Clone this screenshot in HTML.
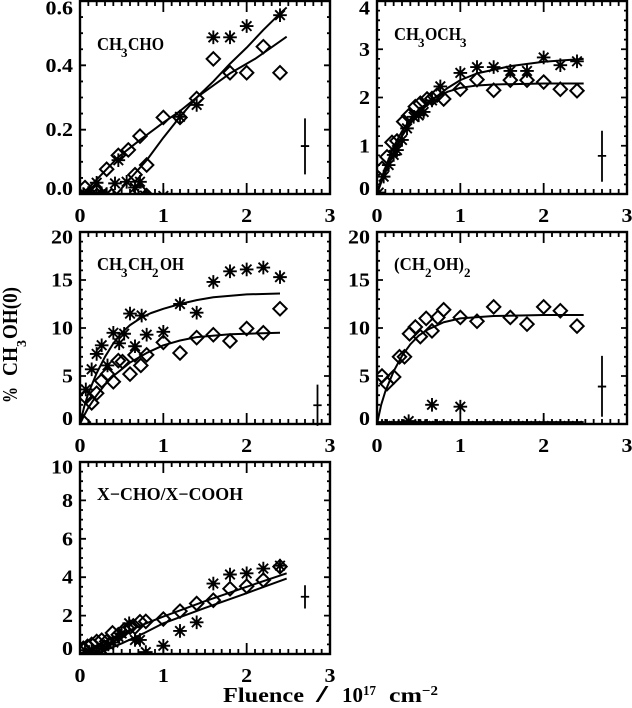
<!DOCTYPE html>
<html lang="en">
<head>
<meta charset="utf-8">
<title>Product yields vs fluence</title>
<style>
html,body{margin:0;padding:0;background:#fff;}
svg{display:block;}
text{font-family:"Liberation Serif",serif;font-weight:bold;fill:#000;}
</style>
</head>
<body>
<svg id="chart" width="632" height="708" viewBox="0 0 632 708" xmlns="http://www.w3.org/2000/svg">
  <rect width="632" height="708" fill="#fff"/>

  <g>
    <text x="97" y="50" font-size="18" textLength="25" lengthAdjust="spacingAndGlyphs">CH</text>
    <text x="121" y="57" font-size="13">3</text>
    <text x="128" y="50" font-size="18" textLength="36" lengthAdjust="spacingAndGlyphs">CHO</text>
  </g>
  <g>
    <text x="394" y="40" font-size="18" textLength="25" lengthAdjust="spacingAndGlyphs">CH</text>
    <text x="418" y="47" font-size="13">3</text>
    <text x="425" y="40" font-size="18" textLength="36" lengthAdjust="spacingAndGlyphs">OCH</text>
    <text x="460" y="47" font-size="13">3</text>
  </g>
  <g>
    <text x="97" y="270" font-size="18" textLength="25" lengthAdjust="spacingAndGlyphs">CH</text>
    <text x="121" y="277" font-size="13">3</text>
    <text x="128" y="270" font-size="18" textLength="25" lengthAdjust="spacingAndGlyphs">CH</text>
    <text x="152" y="277" font-size="13">2</text>
    <text x="160" y="270" font-size="18" textLength="24" lengthAdjust="spacingAndGlyphs">OH</text>
  </g>
  <g>
    <text x="394" y="270" font-size="18" textLength="31" lengthAdjust="spacingAndGlyphs">(CH</text>
    <text x="425" y="277" font-size="13">2</text>
    <text x="433" y="270" font-size="18" textLength="31" lengthAdjust="spacingAndGlyphs">OH)</text>
    <text x="464" y="277" font-size="13">2</text>
  </g>
  <text x="97" y="500" font-size="18" textLength="146" lengthAdjust="spacingAndGlyphs">X−CHO/X−COOH</text>

  <g transform="translate(17,403) rotate(-90)">
    <text x="0" y="0" font-size="21" textLength="16" lengthAdjust="spacingAndGlyphs">%</text>
    <text x="27" y="0" font-size="21" textLength="29" lengthAdjust="spacingAndGlyphs">CH</text>
    <text x="56" y="9" font-size="14">3</text>
    <text x="64" y="0" font-size="21" textLength="52" lengthAdjust="spacingAndGlyphs">OH(0)</text>
  </g>
  <g>
    <text x="223" y="702" font-size="21" textLength="81" lengthAdjust="spacingAndGlyphs">Fluence</text>
    <text x="316" y="702" font-size="24" textLength="12" lengthAdjust="spacingAndGlyphs">/</text>
    <text x="342" y="702" font-size="21" textLength="21" lengthAdjust="spacingAndGlyphs">10</text>
    <text x="363" y="695" font-size="14" textLength="13" lengthAdjust="spacingAndGlyphs">17</text>
    <text x="389" y="702" font-size="21" textLength="33" lengthAdjust="spacingAndGlyphs">cm</text>
    <text x="422" y="695" font-size="14" textLength="16" lengthAdjust="spacingAndGlyphs">−2</text>
  </g>
</svg>

<script>
// ---- x tick labels (shared) ----
const xTickValues = [0, 1, 2, 3];
const xTickLabels = ['0', '1', '2', '3'];

// ---- Panel 1: CH3CHO ----
const p1YTicks = [0, 0.2, 0.4, 0.6];
const p1YLabels = ['0.0', '0.2', '0.4', '0.6'];
const p1DiamondX = [0.06, 0.12, 0.2, 0.26, 0.32, 0.38, 0.46, 0.58, 0.66, 0.72, 0.72, 0.8, 0.8, 1, 1.2, 1.4, 1.6, 1.8, 2, 2.2, 2.4];
const p1DiamondY = [0.02, 0, 0.008, -0.005, 0.077, -0.005, 0.12, 0.137, 0.06, 0.18, 0.01, 0.09, -0.005, 0.238, 0.238, 0.297, 0.42, 0.377, 0.377, 0.458, 0.377];
const p1StarX = [0.04, 0.1, 0.14, 0.2, 0.26, 0.32, 0.42, 0.46, 0.56, 0.66, 0.72, 0.78, 1, 1.2, 1.4, 1.6, 1.8, 2, 2.4];
const p1StarY = [0, 0.003, 0, 0.035, 0.002, 0, 0.033, 0.105, 0.038, 0.02, 0.038, -0.005, -0.006, 0.24, 0.277, 0.487, 0.487, 0.522, 0.556];
const p1FitAX = [0.03, 0.2, 0.46, 0.72, 1, 1.2, 1.4, 1.8, 2.1, 2.48];
const p1FitAY = [0, 0.045, 0.115, 0.168, 0.222, 0.258, 0.3, 0.375, 0.42, 0.489];
const p1FitBX = [0.44, 0.6, 0.8, 1, 1.2, 1.4, 1.6, 1.8, 2, 2.2, 2.38, 2.48];
const p1FitBY = [0, 0.047, 0.105, 0.175, 0.24, 0.3, 0.35, 0.405, 0.455, 0.51, 0.556, 0.58];
const p1ErrorBar = [2.7, 0.149, 0.235, 0.061, 0.05];

// ---- Panel 2: CH3OCH3 ----
const p2YTicks = [0, 1, 2, 3, 4];
const p2YLabels = ['0', '1', '2', '3', '4'];
const p2DiamondX = [0.06, 0.12, 0.18, 0.24, 0.32, 0.38, 0.46, 0.52, 0.6, 0.66, 0.72, 0.8, 1, 1.2, 1.4, 1.6, 1.8, 2, 2.2, 2.4];
const p2DiamondY = [0.53, 0.77, 1.07, 1.1, 1.5, 1.62, 1.81, 1.88, 1.97, 1.98, 2.05, 1.97, 2.17, 2.37, 2.15, 2.36, 2.36, 2.32, 2.17, 2.14];
const p2StarX = [0.02, 0.08, 0.14, 0.2, 0.24, 0.3, 0.36, 0.44, 0.5, 0.56, 0.66, 0.76, 1, 1.2, 1.4, 1.6, 1.8, 2, 2.2, 2.4];
const p2StarY = [0.03, 0.36, 0.6, 0.81, 0.91, 1.12, 1.36, 1.6, 1.63, 1.7, 1.94, 2.23, 2.51, 2.63, 2.63, 2.55, 2.55, 2.83, 2.67, 2.75];
const p2FitAX = [0, 0.05, 0.1, 0.2, 0.3, 0.4, 0.5, 0.7, 0.85, 1, 1.2, 1.4, 2, 2.48];
const p2FitAY = [0, 0.3, 0.55, 0.98, 1.3, 1.55, 1.75, 2.0, 2.12, 2.2, 2.25, 2.27, 2.29, 2.29];
const p2FitBX = [0, 0.05, 0.1, 0.2, 0.3, 0.4, 0.5, 0.7, 0.85, 1, 1.2, 1.6, 2, 2.48];
const p2FitBY = [0, 0.24, 0.45, 0.85, 1.2, 1.46, 1.68, 2.0, 2.2, 2.36, 2.5, 2.65, 2.74, 2.8];
const p2ErrorBar = [2.7, 0.79, 1.31, 0.255, 0.05];

// ---- Panel 3: CH3CH2OH ----
const p3YTicks = [0, 5, 10, 15, 20];
const p3YLabels = ['0', '5', '10', '15', '20'];
const p3DiamondX = [0.04, 0.07, 0.14, 0.2, 0.26, 0.33, 0.4, 0.46, 0.51, 0.6, 0.66, 0.73, 0.8, 1, 1.2, 1.4, 1.6, 1.8, 2, 2.2, 2.4];
const p3DiamondY = [0.2, 2.8, 2.2, 3.2, 4.5, 5.2, 4.4, 6.6, 6.5, 5.2, 7.2, 6.1, 7.2, 8.5, 7.4, 9, 9.3, 8.65, 9.95, 9.5, 12];
const p3StarX = [0.07, 0.14, 0.2, 0.26, 0.33, 0.4, 0.47, 0.53, 0.6, 0.66, 0.74, 0.8, 1, 1.2, 1.4, 1.6, 1.8, 2, 2.2, 2.4];
const p3StarY = [3.6, 5.7, 7.3, 8.2, 6.1, 9.5, 8.4, 9.4, 11.5, 8.1, 11.3, 9.3, 9.6, 12.5, 11.6, 14.8, 15.9, 16.1, 16.3, 15.3];
const p3FitAX = [0, 0.05, 0.1, 0.2, 0.3, 0.4, 0.5, 0.6, 0.74, 0.85, 1, 1.2, 1.4, 1.6, 2, 2.4];
const p3FitAY = [0, 1.8, 3.2, 5.3, 7, 8.4, 9.5, 10.3, 11.1, 11.55, 12, 12.5, 12.9, 13.2, 13.5, 13.6];
const p3FitBX = [0, 0.05, 0.1, 0.2, 0.3, 0.4, 0.6, 0.8, 1, 1.2, 1.4, 1.8, 2.4];
const p3FitBY = [0, 0.9, 1.7, 3, 4.1, 5, 6.4, 7.4, 8.2, 8.7, 9.05, 9.35, 9.5];
const p3ErrorBar = [2.85, 1.95, 4.1, -0.2, 0.05];

// ---- Panel 4: (CH2OH)2 ----
const p4YTicks = [0, 5, 10, 15, 20];
const p4YLabels = ['0', '5', '10', '15', '20'];
const p4DiamondX = [0.06, 0.12, 0.2, 0.27, 0.33, 0.39, 0.46, 0.52, 0.59, 0.66, 0.73, 0.8, 1, 1.2, 1.4, 1.6, 1.8, 2, 2.2, 2.4];
const p4DiamondY = [5, 4.2, 4.9, 7, 7, 9.4, 10.1, 9.1, 11, 9.7, 11.1, 11.9, 11.1, 10.7, 12.2, 11.1, 10.4, 12.2, 11.8, 10.2];
const p4StarX = [0.06, 0.12, 0.2, 0.26, 0.32, 0.38, 0.46, 0.52, 0.58, 0.66, 0.72, 0.8, 1, 1.2, 1.4, 1.6, 1.8, 2, 2.2, 2.4];
const p4StarY = [-0.2, -0.2, -0.2, -0.2, -0.2, 0.3, -0.2, -0.2, -0.2, 2, -0.2, -0.2, 1.8, -0.2, -0.2, -0.2, -0.2, -0.2, -0.2, -0.2];
const p4FitAX = [0, 0.05, 0.1, 0.2, 0.3, 0.4, 0.5, 0.6, 0.8, 1, 1.4, 2, 2.48];
const p4FitAY = [0, 2, 3.4, 5.5, 7.1, 8.3, 9.2, 9.8, 10.6, 11, 11.25, 11.35, 11.35];
const p4FitBX = [0, 1, 2.48];
const p4FitBY = [0.2, 0.2, 0.2];
const p4ErrorBar = [2.7, 3.9, 7.1, 0.75, 0.05];

// ---- Panel 5: X-CHO / X-COOH ----
const p5YTicks = [0, 2, 4, 6, 8, 10];
const p5YLabels = ['0', '2', '4', '6', '8', '10'];
const p5DiamondX = [0.04, 0.09, 0.14, 0.2, 0.26, 0.32, 0.39, 0.46, 0.53, 0.6, 0.66, 0.72, 0.79, 1, 1.2, 1.4, 1.6, 1.8, 2, 2.2, 2.4];
const p5DiamondY = [0.3, 0.4, 0.5, 0.65, 0.72, 0.65, 1.1, 1, 1.25, 1.4, 1.4, 1.68, 1.7, 1.82, 2.23, 2.63, 2.8, 3.4, 3.53, 3.85, 4.55];
const p5StarX = [0.06, 0.14, 0.2, 0.26, 0.34, 0.4, 0.46, 0.5, 0.59, 0.66, 0.72, 0.79, 1, 1.2, 1.4, 1.6, 1.8, 2, 2.2, 2.4];
const p5StarY = [0.2, 0.2, 0.1, 0.3, 0.5, 0.6, 0.9, 1.07, 1.6, 0.73, 0.73, 0.1, 0.43, 1.2, 1.65, 3.67, 4.14, 4.2, 4.45, 4.6];
const p5FitAX = [0, 0.25, 0.5, 0.75, 1, 1.5, 2, 2.48];
const p5FitAY = [0, 0.55, 1.05, 1.52, 1.95, 2.75, 3.5, 4.2];
const p5FitBX = [0.2, 0.5, 0.76, 1, 1.5, 2, 2.48];
const p5FitBY = [0, 0.55, 1.07, 1.6, 2.4, 3.17, 3.93];
const p5ErrorBar = [2.7, 2.98, 3.58, 2.37, 0.05];

// ---- Drawing ----
const SVGNS = 'http://www.w3.org/2000/svg';
const root = document.getElementById('chart');

function mk(tag, parent) {
  const el = document.createElementNS(SVGNS, tag);
  parent.appendChild(el);
  return el;
}
function setAll(el, attrs) {
  for (const k in attrs) el.setAttribute(k, attrs[k]);
}

function drawPanel(n, box, yMax, yMinor, yTicks, yLabels, dX, dY, sX, sY, aX, aY, bX, bY, err, yLabelRight, firstYLabelOffset) {
  const sx = v => box.x0 + (v / 3) * (box.x1 - box.x0);
  const sy = v => box.y1 - (v / yMax) * (box.y1 - box.y0);

  const clip = mk('clipPath', root);
  clip.setAttribute('id', 'clip-' + n);
  setAll(mk('rect', clip), {x: box.x0, y: box.y0, width: box.x1 - box.x0, height: box.y1 - box.y0});

  const g = mk('g', root);
  
  

  // data layer
  const data = mk('g', g);
  
  
  data.setAttribute('clip-path', 'url(#clip-' + n + ')');

  [[aX, aY, 'a'], [bX, bY, 'b']].forEach(function (fit) {
    const line = mk('polyline', data);
    
    
    setAll(line, {
      points: fit[0].map((x, i) => sx(x).toFixed(2) + ',' + sy(fit[1][i]).toFixed(2)).join(' '),
      fill: 'none', stroke: '#000', 'stroke-width': 2, 'stroke-linejoin': 'round'
    });
  });

  dX.forEach(function (x, i) {
    const px = sx(x), py = sy(dY[i]), r = 6.7;
    const d = mk('polygon', data);
    
    
    setAll(d, {
      points: [px, py - r, px + r, py, px, py + r, px - r, py].map(v => v.toFixed(2)).reduce((s, v, j) => s + v + (j % 2 ? ' ' : ','), ''),
      fill: 'none', stroke: '#000', 'stroke-width': 2
    });
  });

  sX.forEach(function (x, i) {
    const px = sx(x), py = sy(sY[i]), r = 6.8, q = 4.8;
    const s = mk('path', data);
    
    
    setAll(s, {
      d: 'M' + (px - r) + ' ' + py + 'H' + (px + r) +
         'M' + px + ' ' + (py - r) + 'V' + (py + r) +
         'M' + (px - q) + ' ' + (py - q) + 'L' + (px + q) + ' ' + (py + q) +
         'M' + (px - q) + ' ' + (py + q) + 'L' + (px + q) + ' ' + (py - q),
      fill: 'none', stroke: '#000', 'stroke-width': 1.9
    });
  });

  // error bar
  const e = mk('path', g);
  
  
  setAll(e, {
    d: 'M' + sx(err[0]) + ' ' + sy(err[2]) + 'V' + sy(err[3]) +
       'M' + sx(err[0] - err[4]) + ' ' + sy(err[1]) + 'H' + sx(err[0] + err[4]),
    fill: 'none', stroke: '#000', 'stroke-width': 1.8
  });

  // axis frame
  const frame = mk('rect', g);
  
  
  setAll(frame, {x: box.x0, y: box.y0, width: box.x1 - box.x0, height: box.y1 - box.y0, fill: 'none', stroke: '#000', 'stroke-width': 2.4});

  // ticks
  let tickPath = '';
  for (let t = 0; t <= 30; t++) {
    const major = t % 10 === 0;
    const len = major ? 11 : 5;
    const x = sx(t / 10);
    tickPath += 'M' + x + ' ' + box.y1 + 'V' + (box.y1 - len) + 'M' + x + ' ' + box.y0 + 'V' + (box.y0 + len);
  }
  const perMajor = Math.round((yTicks[1] - yTicks[0]) / yMinor);
  const yCount = Math.round(yMax / yMinor);
  for (let t = 0; t <= yCount; t++) {
    const major = t % perMajor === 0;
    const len = major ? 6 : 3;
    const y = sy(t * yMinor);
    tickPath += 'M' + box.x0 + ' ' + y + 'H' + (box.x0 + len) + 'M' + box.x1 + ' ' + y + 'H' + (box.x1 - len);
  }
  const ticks = mk('path', g);
  
  
  setAll(ticks, {d: tickPath, fill: 'none', stroke: '#000', 'stroke-width': 1.8});

  // x tick labels
  xTickValues.forEach(function (v, i) {
    const t = mk('text', g);
    
    
    setAll(t, {
      transform: 'translate(' + sx(v) + ',' + (box.y1 + 28) + ') scale(1.1,1)',
      'text-anchor': 'middle', 'font-size': 20
    });
    t.textContent = xTickLabels[i];
  });

  // y tick labels
  yTicks.forEach(function (v, i) {
    let cy = sy(v);
    if (i === 0) cy -= 5.5;
    if (i === yTicks.length - 1) cy += firstYLabelOffset;
    const t = mk('text', g);
    
    
    setAll(t, {
      transform: 'translate(' + yLabelRight + ',' + (cy + 6.5) + ') scale(1.1,1)',
      'text-anchor': 'end', 'font-size': 20
    });
    t.textContent = yLabels[i];
  });
}

drawPanel(1, {x0: 80, x1: 330, y0: 1, y1: 194}, 0.6, 0.05, p1YTicks, p1YLabels, p1DiamondX, p1DiamondY, p1StarX, p1StarY, p1FitAX, p1FitAY, p1FitBX, p1FitBY, p1ErrorBar, 73, 7);
drawPanel(2, {x0: 377, x1: 627, y0: 1, y1: 194}, 4, 0.2, p2YTicks, p2YLabels, p2DiamondX, p2DiamondY, p2StarX, p2StarY, p2FitAX, p2FitAY, p2FitBX, p2FitBY, p2ErrorBar, 370, 7);
drawPanel(3, {x0: 80, x1: 330, y0: 232, y1: 424}, 20, 1, p3YTicks, p3YLabels, p3DiamondX, p3DiamondY, p3StarX, p3StarY, p3FitAX, p3FitAY, p3FitBX, p3FitBY, p3ErrorBar, 73, 5);
drawPanel(4, {x0: 377, x1: 627, y0: 232, y1: 424}, 20, 1, p4YTicks, p4YLabels, p4DiamondX, p4DiamondY, p4StarX, p4StarY, p4FitAX, p4FitAY, p4FitBX, p4FitBY, p4ErrorBar, 370, 5);
drawPanel(5, {x0: 80, x1: 330, y0: 462, y1: 654}, 10, 0.5, p5YTicks, p5YLabels, p5DiamondX, p5DiamondY, p5StarX, p5StarY, p5FitAX, p5FitAY, p5FitBX, p5FitBY, p5ErrorBar, 73, 5);
</script>
</body>
</html>
